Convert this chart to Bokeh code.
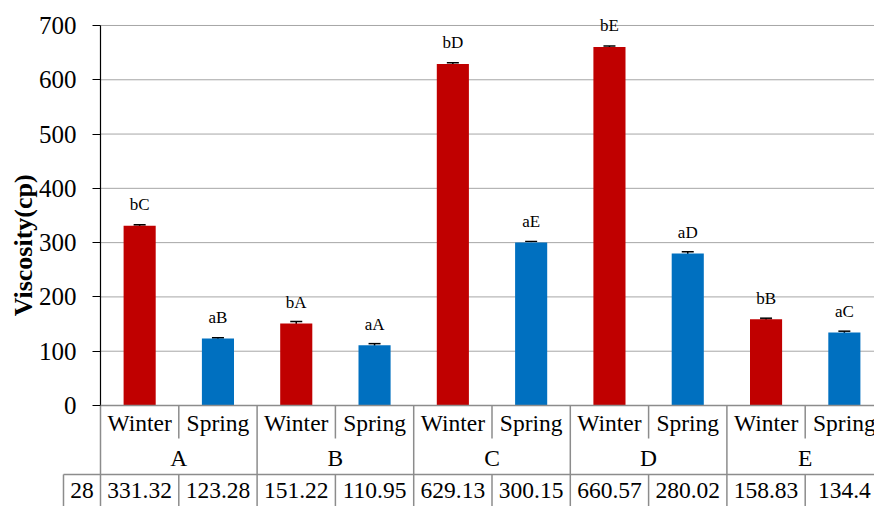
import math
from bokeh.plotting import figure
from bokeh.models import Range1d, FixedTicker, Whisker, ColumnDataSource, TeeHead
from bokeh.core.properties import value
from bokeh.embed import file_html
from bokeh.resources import INLINE

# Viscosity by site and season
sites = ["A", "B", "C", "D", "E"]
seasons = ["Winter", "Spring"]
viscosity = [331.32, 123.28, 151.22, 110.95, 629.13, 300.15, 660.57, 280.02, 158.83, 134.4]
std_err = [1.5, 1.7, 3.5, 3.0, 2.3, 2.0, 1.7, 3.2, 2.0, 2.5]
letters = ["bC", "aB", "bA", "aA", "bD", "aE", "bE", "aD", "bB", "aC"]
table_row_label = "28"
value_labels = ["331.32", "123.28", "151.22", "110.95", "629.13",
                "300.15", "660.57", "280.02", "158.83", "134.4"]
y_ticks = [0, 100, 200, 300, 400, 500, 600, 700]
y_title = "Viscosity(cp)"

season_colors = {"Winter": "#C00000", "Spring": "#0070C0"}
FONT = "Liberation Serif"
GRID = "#a6a6a6"
TABLE = "#8c8c8c"

n = len(viscosity)
x_pos = [i + 0.5 for i in range(n)]
season_of = [seasons[i % 2] for i in range(n)]
colors = [season_colors[s] for s in season_of]

# layout of the data table under the plot (data units)
Y_BOTTOM = -186.05
Y_TOP = 736.8
ROW1_Y = -32.2
ROW1_SPLIT = -60.8
ROW2_Y = -95.8
TABLE_TOP = -127.1
ROW3_Y = -156.6
X_LEFT = -1.2771
HEADER_LEFT = -0.4726
TITLE_X = -0.985
TITLE_Y = 295

p = figure(width=874, height=506, output_backend="svg", toolbar_location=None,
           x_range=Range1d(X_LEFT, 9.885), y_range=Range1d(Y_BOTTOM, Y_TOP),
           x_axis_location=None, min_border_left=0, min_border_right=0,
           min_border_top=5, min_border_bottom=0)
p.outline_line_color = None
p.background_fill_color = "white"
p.border_fill_color = "white"

# y axis anchored at x = 0 so the table header cell can sit left of it
yax = p.yaxis[0]
yax.fixed_location = 0
yax.ticker = FixedTicker(ticks=y_ticks)
yax.axis_line_color = None
yax.major_tick_in = 0
yax.major_tick_out = 8
yax.major_tick_line_color = "black"
yax.minor_tick_line_color = None
yax.major_label_text_color = None

# tick labels and axis title in the serif face
p.text(x=[0] * len(y_ticks), y=y_ticks, text=[str(t) for t in y_ticks], x_offset=-24,
       text_align="right", text_baseline="middle",
       text_font=value(FONT), text_font_size="25px", text_color="black")
p.text(x=[TITLE_X], y=[TITLE_Y], text=[y_title], angle=math.pi / 2,
       text_align="center", text_baseline="middle",
       text_font=value(FONT), text_font_size="26px", text_font_style="bold", text_color="black")

p.xgrid.visible = False
p.ygrid.visible = False
grid_vals = y_ticks[1:]
p.segment(x0=[0] * len(grid_vals), y0=grid_vals, x1=[10] * len(grid_vals), y1=grid_vals,
          line_color=GRID, line_width=1)

# bars
src = ColumnDataSource(dict(
    x=x_pos, top=viscosity, color=colors, letters=letters,
    upper=[v + e for v, e in zip(viscosity, std_err)],
    lower=[v - e for v, e in zip(viscosity, std_err)],
))
p.vbar(x="x", top="top", bottom=0, width=0.41, fill_color="color", line_color=None, source=src)

p.add_layout(Whisker(base="x", upper="upper", lower="lower", source=src,
                     line_color="black", line_width=1.5,
                     upper_head=TeeHead(size=12, line_width=1.5, line_color="black"),
                     lower_head=TeeHead(size=12, line_width=1.5, line_color="black")))

p.text(x="x", y="top", text="letters", source=src, y_offset=-21,
       text_align="center", text_baseline="middle",
       text_font=value(FONT), text_font_size="17px", text_color="black")

# axis line (black over the plot, grey through the table)
p.segment(x0=[0], y0=[0], x1=[0], y1=[700], line_color="black", line_width=1.2)
p.segment(x0=[0], y0=[Y_BOTTOM], x1=[0], y1=[0], line_color=TABLE, line_width=1.5)

# data table grid
p.segment(x0=[0, HEADER_LEFT], y0=[0, TABLE_TOP], x1=[10, 10], y1=[0, TABLE_TOP],
          line_color=TABLE, line_width=1.5)
inner = [2 * g + 1 for g in range(len(sites))]
groups = [2 * g for g in range(1, len(sites) + 1)]
p.segment(x0=inner, y0=[0] * len(inner), x1=inner, y1=[ROW1_SPLIT] * len(inner),
          line_color=TABLE, line_width=1.5)
p.segment(x0=inner, y0=[TABLE_TOP] * len(inner), x1=inner, y1=[Y_BOTTOM] * len(inner),
          line_color=TABLE, line_width=1.5)
p.segment(x0=groups, y0=[0] * len(groups), x1=groups, y1=[Y_BOTTOM] * len(groups),
          line_color=TABLE, line_width=1.5)
p.segment(x0=[HEADER_LEFT], y0=[TABLE_TOP], x1=[HEADER_LEFT], y1=[Y_BOTTOM],
          line_color=TABLE, line_width=1.5)

# table text
p.text(x=x_pos, y=[ROW1_Y] * n, text=season_of, text_align="center", text_baseline="middle",
       text_font=value(FONT), text_font_size="23.5px", text_color="black")
p.text(x=[2 * g + 1 for g in range(len(sites))], y=[ROW2_Y] * len(sites), text=sites,
       text_align="center", text_baseline="middle",
       text_font=value(FONT), text_font_size="23.5px", text_color="black")
p.text(x=x_pos, y=[ROW3_Y] * n, text=value_labels, text_align="center", text_baseline="middle",
       text_font=value(FONT), text_font_size="23.5px", text_color="black")
p.text(x=[HEADER_LEFT / 2], y=[ROW3_Y], text=[table_row_label], text_align="center",
       text_baseline="middle", text_font=value(FONT), text_font_size="23.5px", text_color="black")

open("out.html", "w").write(file_html(p, INLINE))
